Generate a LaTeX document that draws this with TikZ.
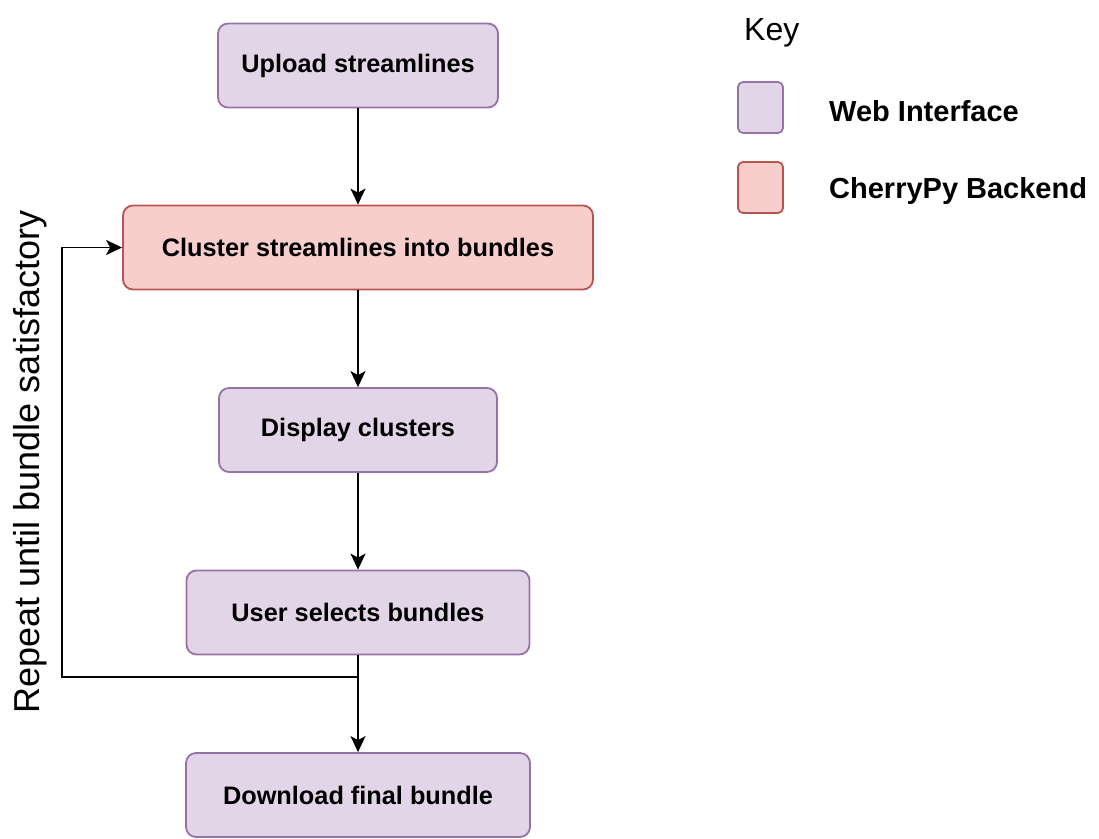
\documentclass[tikz,border=0pt]{standalone}
\usepackage{fontspec}
\setmainfont{Liberation Sans}
\usepackage{tikz}
\usetikzlibrary{arrows.meta,positioning}
\usepackage{xcolor}
\definecolor{webfill}{HTML}{E1D5E7}
\definecolor{webline}{HTML}{9673A6}
\definecolor{backfill}{HTML}{F8CECC}
\definecolor{backline}{HTML}{B85450}
\tikzset{
  stepbox/.style = {draw, line width=1.8pt, rectangle, rounded corners=10pt,
                    minimum height=84pt, align=center,
                    font=\fontsize{25.3}{30}\selectfont\bfseries},
  webbox/.style  = {stepbox, fill=webfill, draw=webline},
  backbox/.style = {stepbox, fill=backfill, draw=backline},
  keybox/.style  = {draw, line width=1.8pt, rectangle, rounded corners=5pt,
                    minimum width=45pt, minimum height=51pt},
  keytext/.style = {anchor=base west, inner sep=0pt,
                    font=\fontsize{29}{34}\selectfont\bfseries},
  link/.style    = {-{Stealth[length=16pt,width=15pt,inset=4pt]}, line width=1.7pt},
}
\begin{document}
\begin{tikzpicture}[x=1pt, y=-1pt]
\useasboundingbox (0,0) rectangle (1099,838);
% ---------------- process steps ----------------
\node[webbox,  minimum width=280pt] (upload)   at (358,65.5)  {Upload streamlines};
\node[backbox, minimum width=470pt] (cluster)  at (358,247.5) {Cluster streamlines into bundles};
\node[webbox,  minimum width=278pt] (display)  at (358,430)   {Display clusters};
\node[webbox,  minimum width=343pt] (select)   at (358,612.5) {User selects bundles};
\node[webbox,  minimum width=344pt] (download) at (358,795)   {Download final bundle};
% ---------------- forward flow ----------------
\draw[link] (upload) -- (cluster);
\draw[link] (cluster) -- (display);
\draw[link] (display) -- (select);
\draw[link] (select) -- (download);
% ---------------- feedback loop ----------------
\coordinate (split) at (358,677);
\coordinate (loopx) at (62,677);
\draw[link] (split) -- (loopx) |- (cluster.west);
\node[rotate=90, font=\fontsize{36}{42}\selectfont] (repeat) at (30,462)
      {Repeat until bundle satisfactory};
% ---------------- key ----------------
\node[anchor=west, inner sep=0pt, font=\fontsize{32}{38}\selectfont] (key) at (744,33) {Key};
\node[keybox, fill=webfill, draw=webline]   (keyweb)  at (760.5,107.5) {};
\node[keybox, fill=backfill, draw=backline] (keyback) at (760.5,187.5) {};
\node[keytext] (webtxt)  at (829,121.5) {Web Interface};
\node[keytext] (backtxt) at (829,198.5) {CherryPy Backend};
\end{tikzpicture}
\end{document}
